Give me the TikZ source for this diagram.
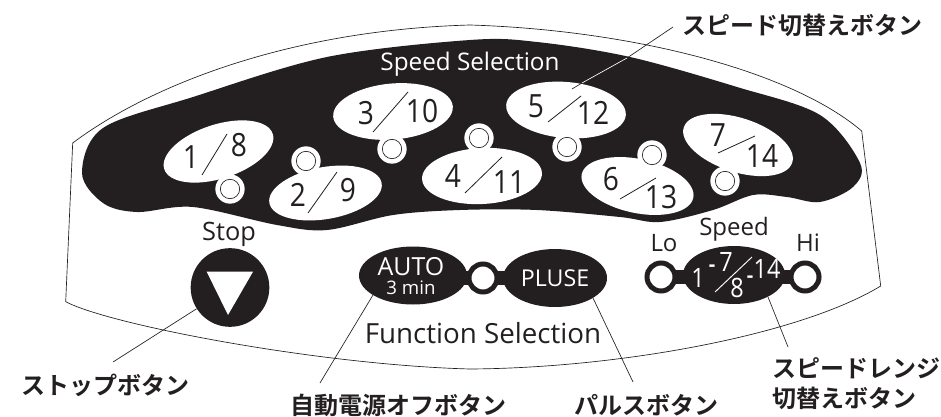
\documentclass[tikz,border=0pt]{standalone}
\usepackage{fontspec}
\setmainfont{Open Sans}
\newfontfamily\numfont[FakeStretch=0.88]{Open Sans}
\newfontfamily\jpfont{Noto Sans CJK JP Bold}
\usetikzlibrary{shapes.geometric}
\definecolor{ink}{HTML}{231F20}
\tikzset{
  x=0.75pt,y=-0.75pt,
  pad/.style={ellipse,fill=white,inner sep=0pt,minimum width=#1},
  blackpad/.style={ellipse,fill=ink,inner sep=0pt,minimum width=#1},
  ledring/.style={circle,fill=white,inner sep=0pt,minimum size=22pt},
  ledeye/.style={circle,draw=ink,fill=white,line width=0.5pt,inner sep=0pt,minimum size=14.5pt},
  ringled/.style={circle,draw=ink,fill=white,line width=3.75pt,inner sep=0pt,minimum size=21pt},
  num/.style={font=\numfont\fontsize{24}{24}\selectfont,text=ink,inner sep=0pt},
  lab/.style={font=\fontsize{18}{20}\selectfont,text=ink,inner sep=0pt},
  jp/.style={font=\jpfont\fontsize{18}{20}\selectfont,text=ink,inner sep=0pt},
  slash/.style={draw=ink,line width=0.6pt},
  leader/.style={draw=ink,line width=0.5pt},
}
\begin{document}
\begin{tikzpicture}
\useasboundingbox (0,0) rectangle (941,417);
% panel outline
\draw[ink,line width=0.5pt] (72.7,143) .. controls (150,85) and (290,30) .. (470,25)
  .. controls (630,30) and (790,70) .. (861.7,131) -- (880.7,286)
  .. controls (800,335) and (620,368) .. (470,369)
  .. controls (320,365) and (110,325) .. (65.7,301.7) -- cycle;
% black band
\fill[ink] plot[smooth cycle,tension=0.55] coordinates {
 (82,173) (103,128) (193,97) (327,57) (470,40) (537,42) (630,57) (737,87) (820,115) (860,163)
 (853,187) (820,202) (787,197) (753,195) (713,210) (660,222) (620,217) (537,210) (460,210)
 (393,215) (327,230) (277,225) (193,207) (137,212) (103,203)};
\node[font=\fontsize{18.2}{20}\selectfont,text=white,inner sep=0pt] (title) at (470,64) {Speed Selection};
% leader over band (white part)
\coordinate (spA) at (673,27);
\coordinate (spB) at (627,58);
\coordinate (spC) at (582,83);
\coordinate (spD) at (572,89);
\draw[white,line width=0.5pt] (spB) -- (spC);
\draw[leader] (spA) -- (spB);
% speed pads
\node[ledring] (r1) at (230,189) {};
\node[ledring] (r2) at (306,161) {};
\node[ledring] (r3) at (392,149) {};
\node[ledring] (r4) at (479,138) {};
\node[ledring] (r5) at (567,147) {};
\node[ledring] (r6) at (652,155) {};
\node[ledring] (r7) at (725,181) {};
\node[pad=85.5pt,minimum height=40.5pt,rotate=18] (p1) at (218.5,151.5) {};
\node[pad=85.5pt,minimum height=39pt,rotate=10] (p2) at (325.5,193) {};
\node[pad=90pt,minimum height=42pt,rotate=5] (p3) at (393,111.5) {};
\node[pad=90pt,minimum height=42pt,rotate=3] (p4) at (482,176) {};
\node[pad=90pt,minimum height=42pt,rotate=-5] (p5) at (566,110) {};
\node[pad=85.5pt,minimum height=40.5pt,rotate=-12] (p6) at (637.5,186) {};
\node[pad=85.5pt,minimum height=40.5pt,rotate=-18] (p7) at (738,145) {};
\node[ledeye] (e1) at (r1) {};
\node[ledeye] (e2) at (r2) {};
\node[ledeye] (e3) at (r3) {};
\node[ledeye] (e4) at (r4) {};
\node[ledeye] (e5) at (r5) {};
\node[ledeye] (e6) at (r6) {};
\node[ledeye] (e7) at (r7) {};
\draw[leader] (spC) -- (spD);
% numbers and slashes
\foreach \ax/\ay/\bx/\by in {227/134/202/175,337/172/308/213,408/92/373/132,502/157/465/193,581/96/548/122,656/178/620/199,755/136/718/153}
  \draw[slash] (\ax,\ay) -- (\bx,\by);
\node[num] (n1) at (191,157) {1};
\node[num] (n8) at (239,145) {8};
\node[num] (n2) at (298,195) {2};
\node[num] (n9) at (348,190) {9};
\node[num] (n3) at (366,113) {3};
\node[num] (n10) at (422,111) {10};
\node[num] (n4) at (453,176) {4};
\node[num] (n11) at (509,182) {11};
\node[num] (n5) at (536,106) {5};
\node[num] (n12) at (593,113) {12};
\node[num] (n6) at (611,179) {6};
\node[num] (n13) at (661,197) {13};
\node[num] (n7) at (718,135) {7};
\node[num] (n14) at (762,156) {14};
% stop
\node[font=\fontsize{19}{20}\selectfont,text=ink,inner sep=0pt] (stoplab) at (229,234) {Stop};
\node[circle,fill=ink,inner sep=0pt,minimum size=59pt] (stop) at (230,287.5) {};
\fill[white] (206.7,271.7) -- (253,271.7) -- (228,315) -- cycle;
% function
\fill[ink] (440,271) rectangle (530,285);
\node[blackpad=81pt,minimum height=43.5pt] (auto) at (413,275.5) {};
\node[blackpad=78pt,minimum height=43.5pt] (pluse) at (555,278) {};
\node[ringled] (fled) at (483,278) {};
\node[font=\fontsize{18.7}{20}\selectfont,text=white,inner sep=0pt] (autot) at (411,267) {AUTO};
\node[font=\fontsize{14}{15}\selectfont,text=white,inner sep=0pt] (mint) at (411,288) {3 min};
\node[font=\fontsize{17.4}{20}\selectfont,text=white,inner sep=0pt] (plt) at (555,278) {PLUSE};
\node[font=\fontsize{20.8}{22}\selectfont,text=ink,inner sep=0pt] (fs) at (483,333) {Function Selection};
% speed range
\fill[ink] (665,270) rectangle (800,284);
\node[blackpad=76.5pt,minimum height=43.5pt] (range) at (734,275) {};
\node[ringled] (lo) at (661,277) {};
\node[ringled] (hi) at (805,277) {};
\node[lab] (speedt) at (734,229) {Speed};
\node[lab] (lot) at (664,243) {Lo};
\node[lab] (hit) at (808,243) {Hi};
\draw[white,line width=0.7pt] (752,257) -- (715,292);
\foreach \n/\x/\y/\t in {ra/698/278/1,rc/726/262/7,rd/737/288/8,rf/767/269/14}
  \node[font=\numfont\fontsize{20}{20}\selectfont,text=white,inner sep=0pt] (\n) at (\x,\y) {\t};
\node[font=\bfseries\fontsize{15}{15}\selectfont,text=white,inner sep=0pt] (rb) at (712,268) {-};
\node[font=\bfseries\fontsize{15}{15}\selectfont,text=white,inner sep=0pt] (re) at (750,279) {-};
% leaders
\coordinate (stopend) at (113,362);
\coordinate (autoend) at (320,383);
\coordinate (plend) at (633,382);
\coordinate (rgend) at (788,347);
\draw[leader] (stopend) -- (stop);
\draw[leader] (autoend) -- (373,295);
\draw[leader] (plend) -- (593,298);
\draw[leader] (rgend) -- (768,297);
% labels
\node[jp] (lsp) at (802,25) {スピード切替えボタン};
\node[jp] (lst) at (105.5,385) {ストップボタン};
\node[jp] (lau) at (398,405) {自動電源オフボタン};
\node[jp] (lpl) at (646,405) {パルスボタン};
\node[jp] (lr1) at (856,368) {スピードレンジ};
\node[jp] (lr2) at (844,398) {切替えボタン};
\end{tikzpicture}
\end{document}
